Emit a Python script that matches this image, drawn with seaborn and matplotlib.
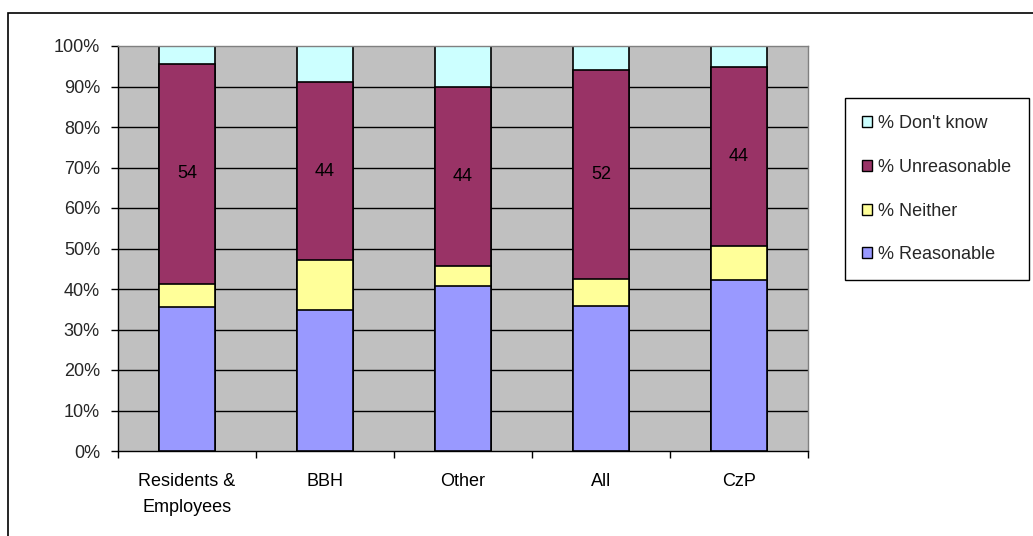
import matplotlib
matplotlib.use("Agg")
import matplotlib.pyplot as plt
import seaborn as sns
import numpy as np
import pandas as pd
from matplotlib.patches import Patch, Rectangle

categories = ["Residents &\nEmployees", "BBH", "Other", "All", "CzP"]
reasonable = [35.6, 34.9, 40.7, 35.9, 42.2]
neither = [5.6, 12.2, 4.9, 6.6, 8.4]
unreasonable = [54.4, 43.9, 44.2, 51.6, 44.2]
dont_know = [4.4, 9.0, 10.2, 5.9, 5.2]
series_names = ["% Reasonable", "% Neither", "% Unreasonable", "% Don't know"]
colors = ["#9999FF", "#FFFF99", "#993366", "#CCFFFF"]
y_ticks = [0, 10, 20, 30, 40, 50, 60, 70, 80, 90, 100]

sns.set_theme(style="white")
plt.rcParams["font.family"] = ["Liberation Sans", "DejaVu Sans"]
FS = 13

fig = plt.figure(figsize=(10.33, 5.36), dpi=100)
ax = fig.add_axes([118/1033, 1 - 451/536, 690/1033, 405/536])
ax.set_facecolor("#C0C0C0")

vals = np.array([reasonable, neither, unreasonable, dont_know])
cum = np.cumsum(vals, axis=0)
df = pd.DataFrame({"category": categories})
for i in range(4):
    df[f"cum{i}"] = cum[i]

ax.set_axisbelow(True)
for y in y_ticks[1:-1]:
    ax.axhline(y, color="black", lw=1, zorder=0)

for i in range(3, -1, -1):
    sns.barplot(data=df, x="category", y=f"cum{i}", color=colors[i], width=0.405,
                edgecolor="black", linewidth=1.2, saturation=1, ax=ax, zorder=2 + (3 - i))

for j, cat in enumerate(categories):
    mid = cum[1][j] + unreasonable[j] / 2
    ax.text(j, mid, f"{round(unreasonable[j])}", ha="center", va="center",
            fontsize=FS, color="black", zorder=10)

ax.set_xlim(-0.5, len(categories) - 0.5)
ax.set_ylim(0, 100)
ax.set_yticks(y_ticks)
ax.set_yticklabels([f"{v}%" for v in y_ticks], fontsize=FS)
ax.set_xticks(range(len(categories)))
ax.set_xticklabels(categories, fontsize=FS, linespacing=1.65)
ax.set_xticks(np.arange(-0.5, len(categories), 1.0), minor=True)
ax.tick_params(axis="x", which="major", length=0, pad=16, colors="black")
ax.tick_params(axis="x", which="minor", length=5, width=1, color="black", direction="out", bottom=True)
ax.tick_params(axis="y", length=5, width=1, color="black", direction="out", left=True, pad=8)
ax.set_xlabel("")
ax.set_ylabel("")
for s in ["left", "bottom"]:
    ax.spines[s].set_color("black")
    ax.spines[s].set_linewidth(1)
for s in ["top", "right"]:
    ax.spines[s].set_color("#808080")
    ax.spines[s].set_linewidth(1)

handles = [Patch(facecolor=colors[i], edgecolor="black", linewidth=1, label=series_names[i])
           for i in range(3, -1, -1)]
leg = fig.legend(handles=handles, loc="upper left",
                 bbox_to_anchor=(845/1033, 1 - 98/536), bbox_transform=fig.transFigure,
                 fontsize=FS, frameon=True, fancybox=False, framealpha=1,
                 handlelength=0.55, handleheight=0.55, handletextpad=0.35,
                 labelspacing=1.48, borderpad=0.95, borderaxespad=0)
leg.get_frame().set_edgecolor("black")
leg.get_frame().set_linewidth(1)

fig.patches.append(Rectangle((8/1033, -0.1), 1.2, 1 - 13/536 + 0.1, transform=fig.transFigure,
                             fill=False, edgecolor="black", linewidth=1.2, zorder=-1))

fig.savefig("out.png", dpi=100, facecolor="white")
